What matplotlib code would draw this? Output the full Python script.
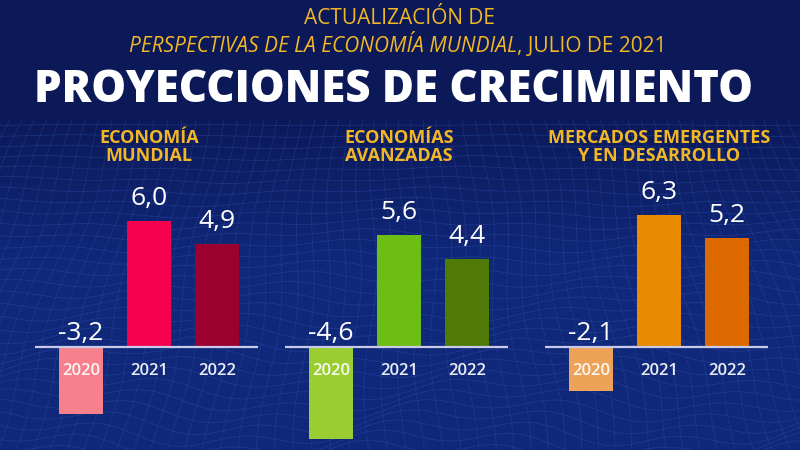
"""IMF WEO July 2021 growth projections, three small bar panels on a navy backdrop."""

import numpy as np
import matplotlib

matplotlib.use("Agg")
import matplotlib.pyplot as plt

# ---------------------------------------------------------------------------
# Data
# ---------------------------------------------------------------------------
YEARS = ["2020", "2021", "2022"]
PANEL_TITLES = ["ECONOMÍA\nMUNDIAL", "ECONOMÍAS\nAVANZADAS",
                "MERCADOS EMERGENTES\nY EN DESARROLLO"]
WORLD = [-3.2, 6.0, 4.9]
ADVANCED = [-4.6, 5.6, 4.4]
EMERGING = [-2.1, 6.3, 5.2]

# ---------------------------------------------------------------------------
# Style
# ---------------------------------------------------------------------------
W, H = 800, 450
BG_TOP = "#0c1958"
BG_LOW = "#10287a"
MESH = "#3a62c4"
GOLD = "#f2b724"
BASELINE = "#c9c9ea"
PANEL_COLORS = [
    ["#f7808c", "#f5004f", "#9b002f"],
    ["#9acd32", "#6cbf12", "#4f7a08"],
    ["#eea257", "#ea8a00", "#dd6a00"],
]
CENTRES_2020 = [81, 331, 591]   # pixel column of each panel's 2020 bar
UNIT_PX = [21, 20, 21]          # pixels per percentage point, per panel
STEP_PX = 68                    # pixels between bar centres
BASE_Y = 347                    # pixel row of the zero line
XLIM = (-0.68, 2.6)
YLIM = (-5.0, 7.4)

plt.rcParams["font.family"] = ["Open Sans", "DejaVu Sans"]


def fx(px):
    return px / W


def fy(py):
    return 1 - py / H


fig = plt.figure(figsize=(8, 4.5), dpi=100)
fig.patch.set_facecolor(BG_TOP)

# Backdrop: gradient plus a faint wire mesh
bg = fig.add_axes([0, 0, 1, 1], zorder=0)
bg.set_xlim(0, W)
bg.set_ylim(H, 0)
bg.axis("off")
grad = np.linspace(0, 1, 200)[:, None]
bg.imshow(np.clip((grad - 0.25) * 3, 0, 1), extent=[0, W, H, 0], aspect="auto",
          cmap=matplotlib.colors.LinearSegmentedColormap.from_list("bg", [BG_TOP, BG_LOW]))
xs = np.linspace(0, W, 300)
for row in np.arange(125, 460, 11):
    wave = 6 * np.sin(xs / 70 + row / 40) + 4 * np.sin(xs / 23 + row / 17)
    bg.plot(xs, row + wave * (row - 110) / 200, color=MESH, lw=0.5, alpha=0.35)
ys = np.linspace(120, H, 120)
for col in np.arange(-40, W + 40, 13):
    bend = 5 * np.sin(ys / 35 + col / 60)
    bg.plot(col + bend + (col - W / 2) * (ys - 120) / 900, ys, color=MESH,
            lw=0.5, alpha=0.3)

# Header text
fig.text(fx(400), fy(18), "ACTUALIZACIÓN DE", color=GOLD, fontsize=15,
         ha="center", va="center")
fig.text(fx(517), fy(46), "PERSPECTIVAS DE LA ECONOMÍA MUNDIAL", color=GOLD,
         fontsize=15, style="italic", ha="right", va="center")
fig.text(fx(517), fy(46), ", JULIO DE 2021", color=GOLD, fontsize=15,
         ha="left", va="center")
fig.text(fx(394), fy(91), "PROYECCIONES DE CRECIMIENTO", color="white",
         fontsize=31.5, fontweight="heavy", ha="center", va="center")

# Panels
for title, values, colors, c0, unit in zip(PANEL_TITLES, [WORLD, ADVANCED, EMERGING],
                                           PANEL_COLORS, CENTRES_2020, UNIT_PX):
    ax_h = (YLIM[1] - YLIM[0]) * unit
    ax_w = (XLIM[1] - XLIM[0]) * STEP_PX
    left = c0 + XLIM[0] * STEP_PX
    top = BASE_Y - YLIM[1] * unit
    ax = fig.add_axes([fx(left), fy(top + ax_h), ax_w / W, ax_h / H], zorder=2)
    ax.set_xlim(*XLIM)
    ax.set_ylim(*YLIM)
    ax.axis("off")
    ax.patch.set_alpha(0)

    x = np.arange(len(YEARS))
    ax.bar(x, values, width=0.66, color=colors, zorder=2)
    ax.axhline(0, color=BASELINE, lw=1.6, zorder=3)
    for xi, v, yr in zip(x, values, YEARS):
        label = f"{v:.1f}".replace(".", ",")
        ax.annotate(label, (xi, max(v, 0)), xytext=(0, 7 if v > 0 else 1),
                    textcoords="offset points", ha="center", va="bottom",
                    color="white", fontsize=19)
        ax.annotate(yr, (xi, 0), xytext=(0, -17), textcoords="offset points",
                    ha="center", va="center", color="white", fontsize=12,
                    fontweight="semibold", alpha=0.92)

    centre = c0 + STEP_PX
    fig.text(fx(centre), fy(147), title, color=GOLD, fontsize=13, fontweight="bold",
             ha="center", va="center", linespacing=1.05)

fig.savefig("out.png", dpi=100, facecolor=fig.get_facecolor())
